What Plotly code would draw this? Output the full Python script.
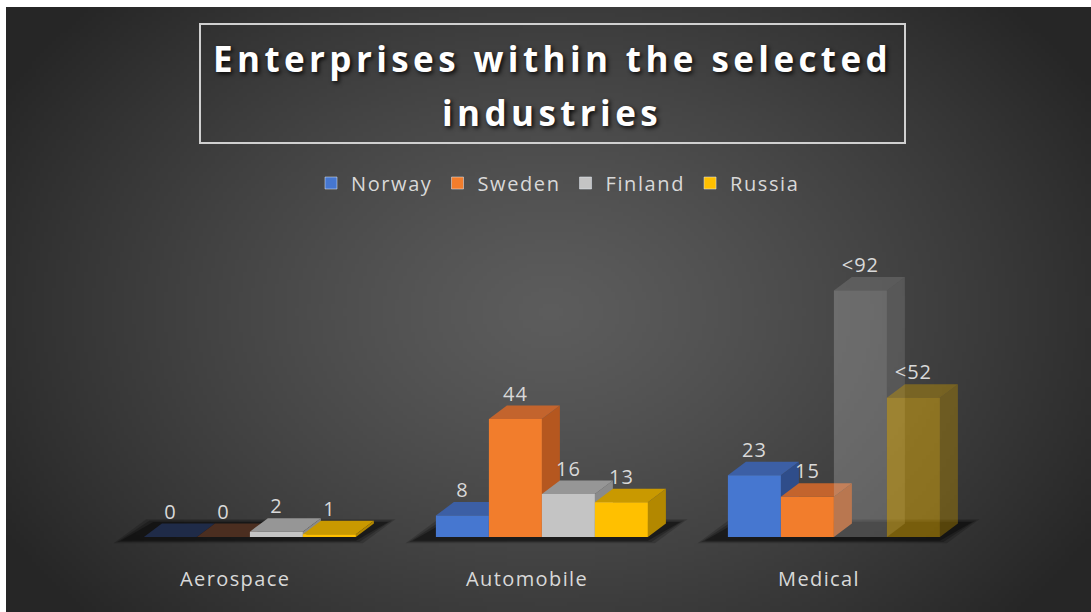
import base64
import struct
import zlib

import plotly.graph_objects as go

# ---- data -------------------------------------------------------------
industries = ["Aerospace", "Automobile", "Medical"]
countries = ["Norway", "Sweden", "Finland", "Russia"]

norway = [0, 8, 23]
sweden = [0, 44, 15]
finland = [2, 16, 92]
russia = [1, 13, 52]

norway_labels = ["0", "8", "23"]
sweden_labels = ["0", "44", "15"]
finland_labels = ["2", "16", "<92"]
russia_labels = ["1", "13", "<52"]

series = [norway, sweden, finland, russia]
series_labels = [norway_labels, sweden_labels, finland_labels, russia_labels]

# ---- styling ------------------------------------------------------------
W, H = 1091, 612
PX_PER_CAT = 292.0          # horizontal pixels per category
PX_PER_UNIT = 2.68          # vertical pixels per enterprise
FLOOR_PX = 537              # pixel row of the floor
CAT1_PX = 527               # pixel column of the second category

face_colors = {
    "Norway": ("#4677d0", "#3c5fa5", "#2f4d8a"),
    "Sweden": ("#f27d2c", "#c3642d", "#b5571f"),
    "Finland": ("#c4c4c4", "#969696", "#8a8a8a"),
    "Russia": ("#ffc000", "#c99900", "#b38800"),
}
zero_top = {"Norway": "#1f2b48", "Sweden": "#4b2e20", "Finland": "#5a5a5a", "Russia": "#5a4a10"}
# translucent columns (country, industry index) -> opacity
translucent = {("Finland", 2): 0.30, ("Russia", 2): 0.42}

TEXT = "#d9d9d9"
FONT = "Open Sans"

bar_w = 53 / PX_PER_CAT
group_off = -0.312
dx = 18 / PX_PER_CAT
dy = 13.5 / PX_PER_UNIT


def spaced(text, px):
    return f'<span style="letter-spacing:{px}px">{text}</span>'


def rgba(hex_color, alpha):
    h = hex_color.lstrip("#")
    r, g, b = int(h[0:2], 16), int(h[2:4], 16), int(h[4:6], 16)
    return f"rgba({r},{g},{b},{alpha})"


def radial_png(w, h):
    """Small greyscale radial-gradient PNG used as the chart backdrop."""
    cx, cy = 0.50 * w, 0.50 * h
    rx, ry = 0.58 * w, 0.75 * h
    inner, outer = 92, 38
    raw = bytearray()
    for j in range(h):
        raw.append(0)
        for i in range(w):
            d = (((i - cx) / rx) ** 2 + ((j - cy) / ry) ** 2) ** 0.5
            t = min(1.0, d)
            t = t ** 1.25
            v = int(round(inner + (outer - inner) * t))
            raw += bytes((v, v, v))

    def chunk(tag, data):
        return (struct.pack(">I", len(data)) + tag + data
                + struct.pack(">I", zlib.crc32(tag + data) & 0xFFFFFFFF))

    png = (b"\x89PNG\r\n\x1a\n"
           + chunk(b"IHDR", struct.pack(">IIBBBBB", w, h, 8, 2, 0, 0, 0))
           + chunk(b"IDAT", zlib.compress(bytes(raw), 9))
           + chunk(b"IEND", b""))
    return "data:image/png;base64," + base64.b64encode(png).decode()


def poly(xs, ys, color, name=""):
    return go.Scatter(
        x=list(xs) + [xs[0]], y=list(ys) + [ys[0]],
        fill="toself", fillcolor=color, mode="lines",
        line=dict(width=0, color=color), hoverinfo="skip",
        showlegend=False, name=name,
    )


fig = go.Figure()

# floor shadows under each cluster
for i, _ in enumerate(industries):
    gl = i + group_off
    gr = gl + 4 * bar_w
    for k, alpha in enumerate([0.18, 0.24, 0.34]):
        s = (2 - k) * 0.012
        fig.add_trace(poly(
            [gl - 0.08 - s, gr + s, gr + dx + 0.05 + s, gl + dx - 0.03 - s],
            [-1.4 - s * 40, -1.4 - s * 40, dy + 0.6 + s * 40, dy + 0.6 + s * 40],
            f"rgba(0,0,0,{alpha})"))

# 3-D columns: side, top and front faces, drawn left to right
for i, _ in enumerate(industries):
    for j, c in enumerate(countries):
        v = series[j][i]
        x0 = i + group_off + j * bar_w
        x1 = x0 + bar_w
        front, top, side = face_colors[c]
        if v == 0:
            top = zero_top[c]
        a = translucent.get((c, i), 1.0)
        # right side face
        fig.add_trace(poly([x1, x1 + dx, x1 + dx, x1],
                           [0, dy, v + dy, v], rgba(side, a)))
        # top face
        fig.add_trace(poly([x0, x1, x1 + dx, x0 + dx],
                           [v, v, v + dy, v + dy], rgba(top, a)))
        # front face
        if v > 0:
            fig.add_trace(poly([x0, x1, x1, x0], [0, 0, v, v], rgba(front, a)))

# value labels above each column
for j, c in enumerate(countries):
    xs = [i + group_off + (j + 0.5) * bar_w for i in range(len(industries))]
    ys = [v + dy for v in series[j]]
    fig.add_trace(go.Scatter(
        x=xs, y=ys, mode="text", text=[spaced(t, 1) for t in series_labels[j]],
        textposition="top center",
        textfont=dict(family=FONT, size=20, color=TEXT),
        hoverinfo="skip", showlegend=False, cliponaxis=False,
    ))

# legend entries
for c in countries:
    fig.add_trace(go.Bar(x=[None], y=[None], name=spaced(c, 1.6),
                         marker=dict(color=face_colors[c][0]), showlegend=True))

# category labels under the floor
for i, name in enumerate(industries):
    fig.add_annotation(x=i, y=-(578 - FLOOR_PX) / PX_PER_UNIT, text=spaced(name, 1.4),
                       showarrow=False, xanchor="center", yanchor="middle",
                       font=dict(family=FONT, size=20, color=TEXT))

# title inside a framed box
title_font = dict(family=FONT, size=35, color="#ffffff", weight="bold",
                  shadow="2px 2px 4px rgba(0,0,0,0.85)")
fig.add_annotation(xref="paper", yref="paper", x=552 / W, y=1 - 58 / H,
                   text=spaced("Enterprises within the selected", 4.4), showarrow=False,
                   xanchor="center", yanchor="middle", font=title_font)
fig.add_annotation(xref="paper", yref="paper", x=552 / W, y=1 - 112 / H,
                   text=spaced("industries", 4.4), showarrow=False,
                   xanchor="center", yanchor="middle", font=title_font)
fig.add_shape(type="rect", xref="paper", yref="paper",
              x0=200 / W, x1=905 / W, y0=1 - 143 / H, y1=1 - 24 / H,
              line=dict(color="#d0d0d0", width=2), fillcolor="rgba(0,0,0,0)")

fig.add_layout_image(dict(
    source=radial_png(272, 152), xref="paper", yref="paper",
    x=6 / W, y=1 - 7 / H, sizex=(W - 6) / W, sizey=(H - 7) / H,
    xanchor="left", yanchor="top", sizing="stretch", layer="below",
))

fig.update_layout(
    width=W, height=H,
    margin=dict(l=0, r=0, t=0, b=0),
    paper_bgcolor="#ffffff", plot_bgcolor="rgba(0,0,0,0)",
    xaxis=dict(range=[1 - CAT1_PX / PX_PER_CAT, 1 + (W - CAT1_PX) / PX_PER_CAT],
               visible=False, fixedrange=True),
    yaxis=dict(range=[-(H - FLOOR_PX) / PX_PER_UNIT, FLOOR_PX / PX_PER_UNIT],
               visible=False, fixedrange=True),
    showlegend=True,
    legend=dict(orientation="h", x=558 / W, xanchor="center",
                y=1 - 183 / H, yanchor="middle", bgcolor="rgba(0,0,0,0)",
                font=dict(family=FONT, size=20, color=TEXT),
                itemwidth=30, traceorder="normal"),
)

fig.write_html("out.html")
